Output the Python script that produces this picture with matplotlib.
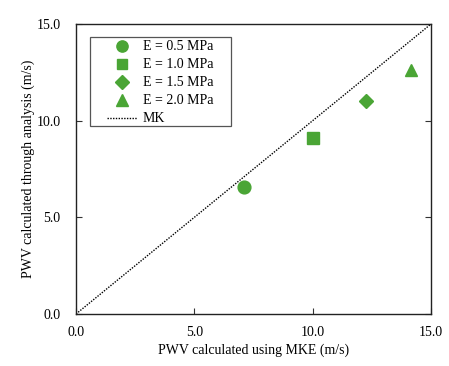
import matplotlib
matplotlib.use("Agg")
import matplotlib.pyplot as plt
from matplotlib.patches import Rectangle

plt.rcParams['font.family'] = ['Liberation Serif', 'DejaVu Serif']

labels = ["E = 0.5 MPa", "E = 1.0 MPa", "E = 1.5 MPa", "E = 2.0 MPa"]
x_mke = [7.1, 10.0, 12.24, 14.16]
y_analysis = [6.55, 9.09, 11.0, 12.6]
markers = ["o", "s", "D", "^"]
sizes = [9.2, 8.6, 7.6, 9.2]
green = "#4aa535"
ticks = [0.0, 5.0, 10.0, 15.0]
tick_labels = ["0.0", "5.0", "10.0", "15.0"]

fig = plt.figure(figsize=(4.49, 3.66), dpi=100)
ax = fig.add_axes([76/449, 1-314/366, (431-76)/449, (314-24)/366])

for xv, yv, m, s, lab in zip(x_mke, y_analysis, markers, sizes, labels):
    ax.plot([xv], [yv], linestyle="none", marker=m, markersize=s, color=green, label=lab)
ax.plot([0, 15], [0, 15], linestyle=(0, (1, 1)), color="black", linewidth=1.0, label="MK")

ax.set_xlim(0, 15)
ax.set_ylim(0, 15)
ax.set_xticks(ticks)
ax.set_xticklabels(tick_labels)
ax.set_yticks(ticks)
ax.set_yticklabels(tick_labels)
ax.tick_params(direction="in", length=4, width=0.8, labelsize=10, color="#333333",
               top=False, right=True)
ax.tick_params(axis="x", pad=9)
ax.tick_params(axis="y", pad=11)
for sp in ax.spines.values():
    sp.set_linewidth(1.0)
    sp.set_color("#222222")
ax.set_xlabel("PWV calculated using MKE (m/s)", fontsize=10, labelpad=3)
ax.set_ylabel("PWV calculated through analysis (m/s)", fontsize=10, labelpad=1)

x0, x1 = (90-76)/355, (231-76)/355
yt, yb = 1-(37-24)/290, 1-(126-24)/290
ax.add_patch(Rectangle((x0, yb), x1-x0, yt-yb, transform=ax.transAxes, fill=False,
                       edgecolor="#555555", linewidth=0.9, zorder=5))

leg = ax.legend(loc="upper left", bbox_to_anchor=((107-76)/355, 1-(40.5-24)/290), fontsize=10,
                frameon=False, handlelength=2.16, handletextpad=0.4,
                labelspacing=0.36, borderpad=0, borderaxespad=0, markerscale=0.88)

fig.savefig("out.png", dpi=100)
